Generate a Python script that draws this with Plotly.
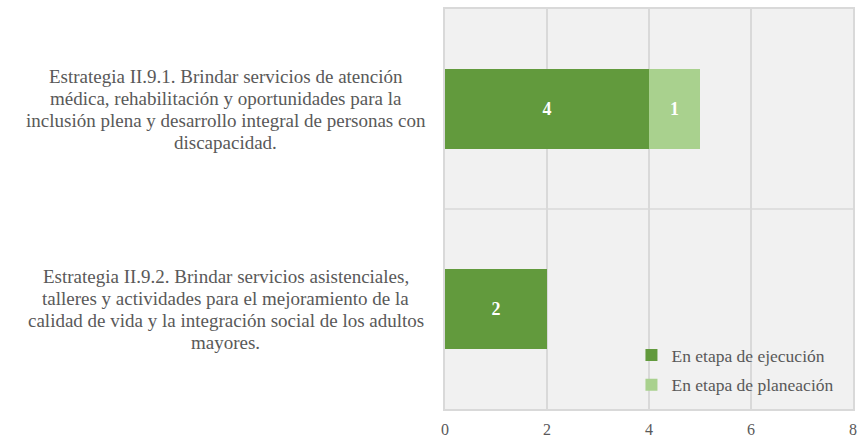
import plotly.graph_objects as go

categories = [
    ["Estrategia II.9.1. Brindar servicios de atención",
     "médica, rehabilitación y oportunidades para la",
     "inclusión plena y desarrollo integral de personas con",
     "discapacidad."],
    ["Estrategia II.9.2. Brindar servicios asistenciales,",
     "talleres y actividades para el mejoramiento de la",
     "calidad de vida y la integración social de los adultos",
     "mayores."],
]
cat_ids = ["II.9.1", "II.9.2"]
ejecucion = [4, 2]
planeacion = [1, 0]
series_names = ["En etapa de ejecución", "En etapa de planeación"]
x_ticks = [0, 2, 4, 6, 8]

FONT = "Liberation Serif"
GREY = "#595959"

fig = go.Figure()
fig.add_trace(go.Bar(
    y=cat_ids, x=ejecucion, orientation="h", name=series_names[0],
    marker=dict(color="#629A3D", line=dict(width=0)),
    text=[str(v) if v else "" for v in ejecucion], textposition="inside",
    insidetextanchor="middle",
    textfont=dict(color="white", size=18, family=FONT, weight="bold"),
    width=0.4, legendgroup="a",
))
fig.add_trace(go.Bar(
    y=cat_ids, x=planeacion, orientation="h", name=series_names[1],
    marker=dict(color="#A9D18E", line=dict(width=0)),
    text=[str(v) if v else "" for v in planeacion], textposition="inside",
    insidetextanchor="middle",
    textfont=dict(color="white", size=18, family=FONT, weight="bold"),
    width=0.4, legendgroup="b",
))

for cid, lines in zip(cat_ids, categories):
    n = len(lines)
    for i, line in enumerate(lines):
        fig.add_annotation(
            x=-0.537, xref="paper", y=cid, yref="y", text=line,
            showarrow=False, align="center", xanchor="center", yanchor="middle",
            yshift=((n - 1) / 2 - i) * 22,
            font=dict(family=FONT, size=19, color=GREY),
        )

fig.add_shape(type="line", xref="paper", x0=0, x1=1, yref="y", y0=0.5, y1=0.5,
              line=dict(color="#d9d9d9", width=1.5), layer="below")

fig.update_layout(
    width=858, height=438,
    margin=dict(l=445, r=5, t=9, b=29, autoexpand=False),
    barmode="stack",
    plot_bgcolor="#f1f1f1", paper_bgcolor="white",
    showlegend=True,
    legend=dict(
        x=0.457, y=0.18, xanchor="left", yanchor="top",
        bgcolor="rgba(0,0,0,0)", traceorder="grouped", tracegroupgap=4,
        font=dict(family=FONT, size=17.5, color=GREY),
        itemwidth=30,
    ),
    xaxis=dict(
        range=[0, 8], tickvals=x_ticks, showgrid=True, gridcolor="#d9d9d9", gridwidth=1.5,
        zeroline=False, showline=True, mirror=True, linecolor="#d9d9d9", linewidth=1.5,
        tickfont=dict(family=FONT, size=16, color=GREY), ticks="", automargin=False,
        ticklabelstandoff=5,
    ),
    yaxis=dict(
        type="category", categoryorder="array", categoryarray=cat_ids,
        range=[1.5, -0.5], showticklabels=False, showgrid=False, zeroline=False,
        showline=True, mirror=True, linecolor="#d9d9d9", linewidth=1.5, ticks="",
        automargin=False,
    ),
    font=dict(family=FONT),
)

fig.write_html("out.html", config={"displayModeBar": False},
               post_script="document.body.style.margin='0';document.body.style.overflow='hidden';")
